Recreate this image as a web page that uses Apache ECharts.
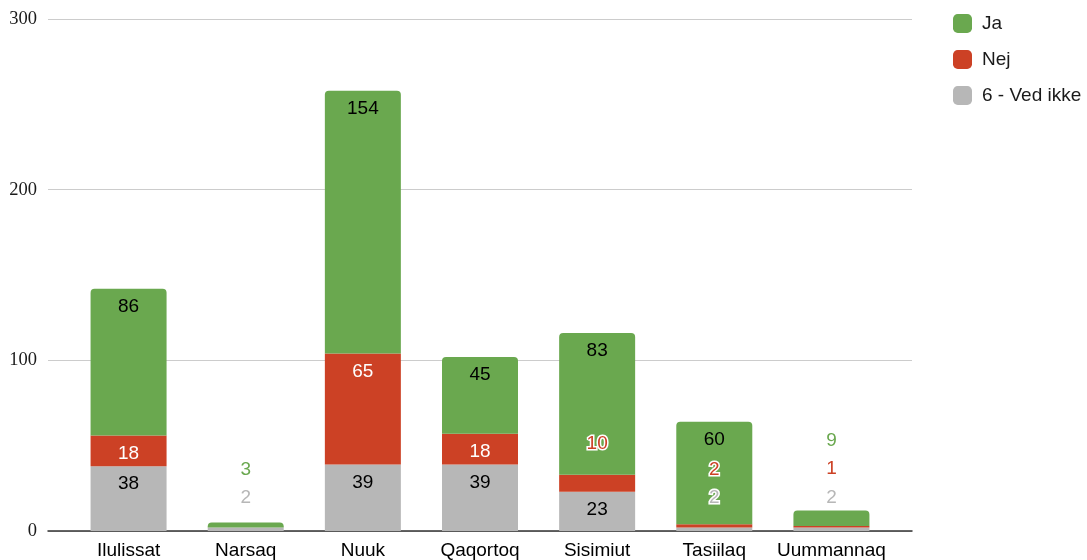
<!DOCTYPE html>
<html>
<head>
<meta charset="utf-8">
<script src="https://cdn.jsdelivr.net/npm/echarts@6/dist/echarts.min.js"></script>
<style>
html,body{margin:0;padding:0;background:#fff;}
#chart{width:1087px;height:560px;}
</style>
</head>
<body>
<div id="chart"></div>
<script>
const categories = ['Ilulissat', 'Narsaq', 'Nuuk', 'Qaqortoq', 'Sisimiut', 'Tasiilaq', 'Uummannaq'];
const vedIkke = [38, 2, 39, 39, 23, 2, 2];
const nej = [18, 0, 65, 18, 10, 2, 1];
const ja = [86, 3, 154, 45, 83, 60, 9];
const yTicks = [0, 100, 200, 300];
const seriesNames = ['Ja', 'Nej', '6 - Ved ikke'];

// label placement for small segments (label drawn above the segment)
const outsideLabel = {
  vedIkke: {1: -30, 5: -30, 6: -30},
  nej: {4: -31, 5: -54, 6: -57},
  ja: {1: -53, 6: -70}
};

const colors = {ja: '#6aa84f', nej: '#cc4125', vedIkke: '#b7b7b7'};
const insideText = {ja: '#000', nej: '#fff', vedIkke: '#000'};
const SANS = 'Liberation Sans, Arial, sans-serif';
const FS = 19;

function build(key, values) {
  return values.map((v, i) => {
    const off = outsideLabel[key][i];
    if (v === 0) return {value: v, label: {show: false}};
    if (off !== undefined) {
      return {value: v, label: {
        show: true, position: ['50%', off], align: 'center', verticalAlign: 'middle',
        color: colors[key], textBorderColor: '#fff', textBorderWidth: 3,
        fontSize: FS, fontFamily: SANS
      }};
    }
    return {value: v, label: {
      show: true, position: ['50%', 18], align: 'center', verticalAlign: 'middle',
      color: insideText[key], fontSize: FS, fontFamily: SANS
    }};
  });
}

const chart = echarts.init(document.getElementById('chart'), null, {renderer: 'canvas'});
chart.setOption({
  animation: false,
  backgroundColor: '#fff',
  grid: [
    {left: 48, right: 175, top: 19, bottom: 29},
    {left: 70, right: 197, top: 19, bottom: 29}
  ],
  legend: {
    orient: 'vertical', left: 948, top: 9,
    itemWidth: 19, itemHeight: 19, itemGap: 17,
    icon: 'roundRect',
    data: seriesNames,
    textStyle: {fontSize: FS, fontFamily: SANS, color: '#1a1a1a', padding: [0, 0, 0, 5]}
  },
  xAxis: [
    {gridIndex: 0, type: 'value', min: 0, max: 1,
     axisLine: {show: true, onZero: false, lineStyle: {color: '#333', width: 1.5}},
     axisTick: {show: false}, axisLabel: {show: false}, splitLine: {show: false}},
    {gridIndex: 1, type: 'category', data: categories,
     axisLine: {show: false}, axisTick: {show: false},
     axisLabel: {interval: 0, fontSize: FS, fontFamily: SANS, color: '#000', margin: 10}}
  ],
  yAxis: [
    {gridIndex: 0, type: 'value', min: yTicks[0], max: yTicks[yTicks.length - 1], interval: 100,
     axisLine: {show: false}, axisTick: {show: false},
     axisLabel: {fontSize: 18.5, fontFamily: 'Liberation Serif, Times New Roman, serif', color: '#1a1a1a', margin: 11},
     splitLine: {lineStyle: {color: '#cccccc', width: 1}}},
    {gridIndex: 1, type: 'value', min: 0, max: 300, show: false}
  ],
  series: [
    {name: '6 - Ved ikke', type: 'bar', stack: 's', xAxisIndex: 1, yAxisIndex: 1,
     barWidth: 76, itemStyle: {color: colors.vedIkke}, data: build('vedIkke', vedIkke)},
    {name: 'Nej', type: 'bar', stack: 's', xAxisIndex: 1, yAxisIndex: 1,
     barWidth: 76, itemStyle: {color: colors.nej}, data: build('nej', nej)},
    {name: 'Ja', type: 'bar', stack: 's', xAxisIndex: 1, yAxisIndex: 1,
     barWidth: 76, itemStyle: {color: colors.ja, borderRadius: [4, 4, 0, 0]}, data: build('ja', ja)}
  ]
});
</script>
</body>
</html>
